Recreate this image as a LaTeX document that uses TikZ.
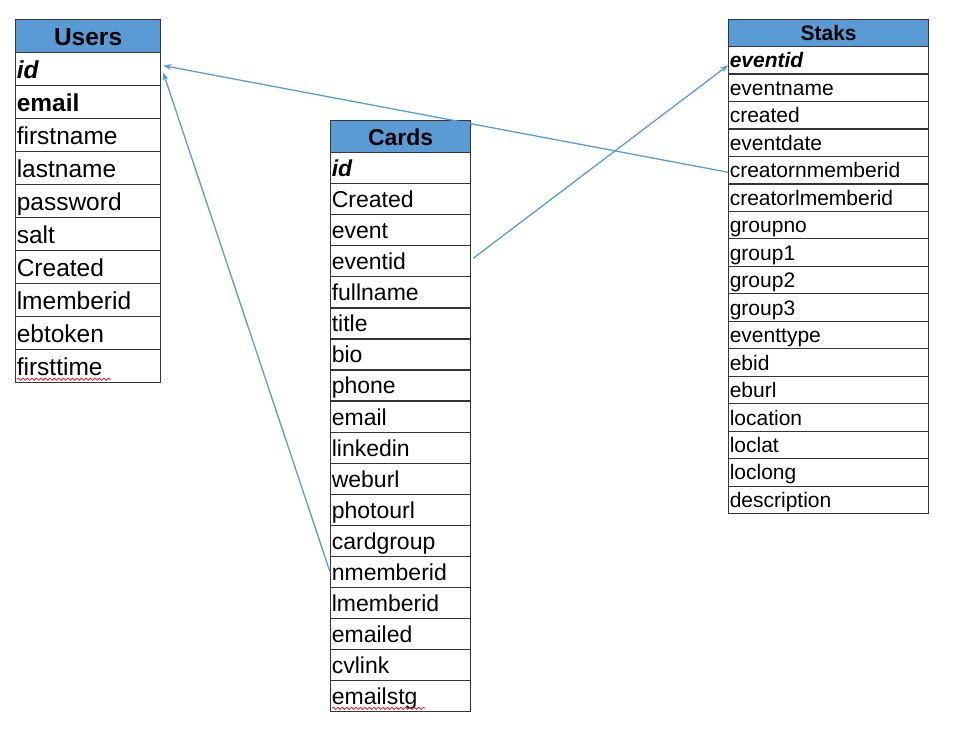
\documentclass[tikz,border=0pt]{standalone}
\usepackage{fontspec}
\setmainfont{Liberation Sans}
\usetikzlibrary{arrows.meta,decorations.pathmorphing}
\definecolor{hdr}{HTML}{5B9BD5}
\definecolor{lnk}{HTML}{5B9BD5}
\definecolor{bord}{HTML}{353535}
\definecolor{squig}{HTML}{E8202A}
\begin{document}
\begin{tikzpicture}[x=1pt,y=-1pt,
  cell/.style={draw=bord, line width=1.2pt, anchor=north west, inner xsep=1.2pt, inner ysep=0pt,
    align=left, text depth=0pt},
  hcell/.style={cell, fill=hdr, align=center},
  ucell/.style={cell, text width=142.6pt, minimum height=33pt, text height=17.8pt, font=\fontsize{24.5}{26}\selectfont},
  ccell/.style={cell, text width=137.6pt, minimum height=31.06pt, text height=16.8pt, font=\fontsize{23}{25}\selectfont},
  scell/.style={cell, text width=197.6pt, minimum height=27.47pt, text height=15.2pt, font=\fontsize{21}{23}\selectfont},
  link/.style={draw=lnk, line width=1.3pt, -{Stealth[length=8pt,width=6pt]}},
  spell/.style={draw=squig, line width=0.8pt, decorate, decoration={snake, amplitude=1.1pt, segment length=4.5pt}}
]
\useasboundingbox (0,0) rectangle (975,729);

% Users
\node[ucell, hcell, font=\fontsize{24.5}{26}\selectfont\bfseries] (uh) at (15,19) {Users};
\foreach \t [count=\i] in {{\textbf{\textit{id}}},{\textbf{email}},firstname,lastname,password,salt,Created,lmemberid,ebtoken,firsttime}
  \node[ucell] (u\i) at (15,{52+(\i-1)*33}) {\t};

% Cards
\node[ccell, hcell, minimum height=32pt, font=\fontsize{23}{25}\selectfont\bfseries] (ch) at (330,120) {Cards};
\foreach \t [count=\i] in {{\textbf{\textit{id}}},Created,event,eventid,fullname,title,bio,phone,email,linkedin,weburl,photourl,cardgroup,nmemberid,lmemberid,emailed,cvlink,emailstg}
  \node[ccell] (c\i) at (330,{152+(\i-1)*31.06}) {\t};

% Staks
\node[scell, hcell, minimum height=27pt, font=\fontsize{21}{23}\selectfont\bfseries] (sh) at (728,19) {Staks};
\foreach \t [count=\i] in {{\textbf{\textit{eventid}}},eventname,created,eventdate,creatornmemberid,creatorlmemberid,groupno,group1,group2,group3,eventtype,ebid,eburl,location,loclat,loclong,description}
  \node[scell] (s\i) at (728,{46+(\i-1)*27.47}) {\t};

% spell-check underlines
\draw[spell] ([xshift=2pt,yshift=4pt]u10.south west) -- ([xshift=96pt,yshift=4pt]u10.south west);
\draw[spell] ([xshift=2pt,yshift=4pt]c18.south west) -- ([xshift=95pt,yshift=4pt]c18.south west);

% connectors
\draw[link] ([yshift=-2pt]s5.west) -- ([xshift=2pt,yshift=3.5pt]u1.east);
\draw[link] (c14.west) -- ([xshift=2pt,yshift=-3.5pt]u1.east);
\draw[link] ([xshift=2pt,yshift=3pt]c4.east) -- ([yshift=-5pt]s1.west);
\end{tikzpicture}
\end{document}
